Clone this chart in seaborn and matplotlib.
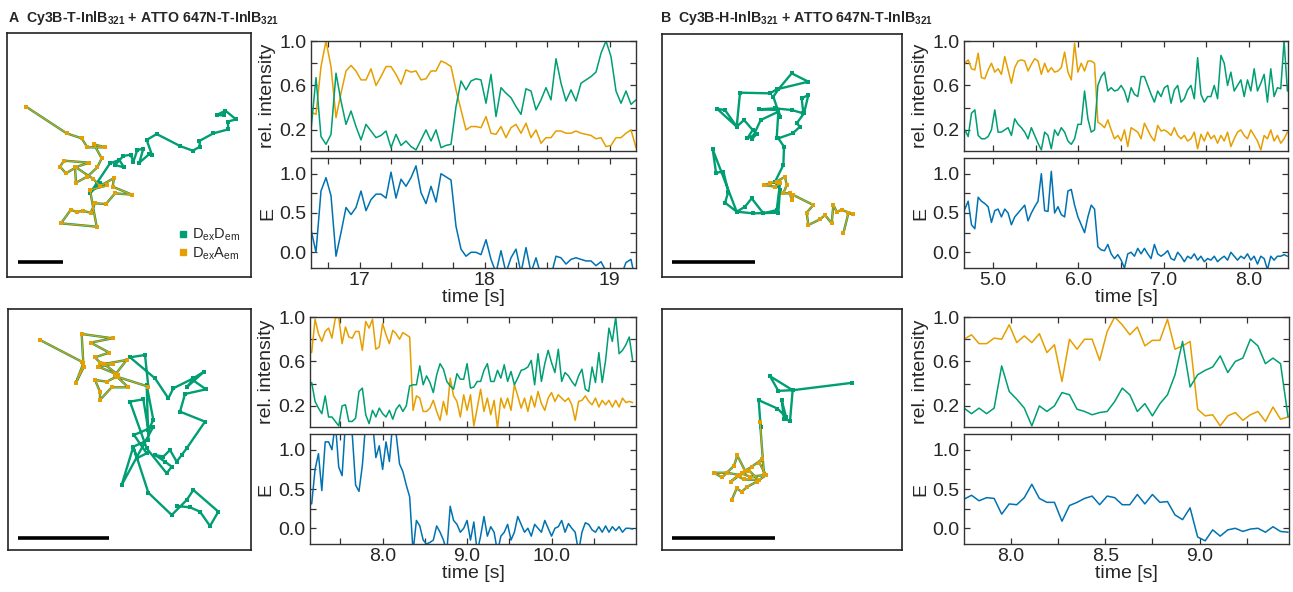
import numpy as np
import matplotlib
matplotlib.use("Agg")
import matplotlib.pyplot as plt
import seaborn as sns
from matplotlib.lines import Line2D

sns.set_theme(style="ticks")
plt.rcParams["font.family"] = ["Liberation Sans", "DejaVu Sans"]
plt.rcParams["mathtext.fontset"] = "custom"
plt.rcParams["mathtext.rm"] = "Liberation Sans"
plt.rcParams["mathtext.it"] = "Liberation Sans:italic"
plt.rcParams["mathtext.bf"] = "Liberation Sans:bold"

GREEN = "#009E73"
ORANGE = "#E69F00"
BLUE = "#0072B2"

# ---------------- data ----------------
titles = [r"A  Cy3B-T-InlB$_\mathbf{321}$ + ATTO 647N-T-InlB$_\mathbf{321}$",
          r"B  Cy3B-H-InlB$_\mathbf{321}$ + ATTO 647N-T-InlB$_\mathbf{321}$"]
legend_labels = [r"D$_\mathrm{ex}$D$_\mathrm{em}$", r"D$_\mathrm{ex}$A$_\mathrm{em}$"]

# panel A, top row
a1_t0, a1_dt = 16.61, 0.04
a1_dd = [0.20, 0.67, 0.14, 0.07, 0.16, 0.71, 0.46, 0.25, 0.37, 0.23,
         0.11, 0.25, 0.19, 0.13, 0.15, 0.19, 0.04, 0.16, 0.06, 0.10,
         0.05, 0.02, 0.11, 0.20, 0.10, 0.20, 0.04, 0.06, 0.07, 0.41,
         0.64, 0.56, 0.64, 0.66, 0.65, 0.44, 0.70, 0.32, 0.58, 0.53,
         0.49, 0.41, 0.34, 0.57, 0.55, 0.38, 0.47, 0.58, 0.47, 0.84,
         0.62, 0.46, 0.56, 0.46, 0.62, 0.65, 0.68, 0.72, 0.89, 1.00,
         0.86, 0.55, 0.44, 0.55, 0.43, 0.47]
a1_da = [0.36, 0.34, 0.77, 1.00, 0.77, 0.31, 0.53, 0.73, 0.78, 0.73,
         0.65, 0.65, 0.75, 0.60, 0.68, 0.77, 0.77, 0.70, 0.61, 0.74,
         0.72, 0.73, 0.65, 0.66, 0.73, 0.73, 0.82, 0.80, 0.77, 0.56,
         0.38, 0.20, 0.23, 0.23, 0.22, 0.32, 0.17, 0.16, 0.23, 0.13,
         0.22, 0.25, 0.17, 0.26, 0.13, 0.20, 0.08, 0.13, 0.13, 0.19,
         0.19, 0.17, 0.17, 0.19, 0.17, 0.16, 0.15, 0.12, 0.13, 0.05,
         0.06, 0.13, 0.13, 0.17, 0.20, 0.04]
a1_e = [0.29, 0.00, 0.78, 0.95, 0.72, -0.05, 0.25, 0.57, 0.48, 0.57,
        0.78, 0.53, 0.67, 0.74, 0.74, 0.69, 1.02, 0.69, 0.93, 0.84,
        0.95, 1.10, 0.76, 0.62, 0.84, 0.64, 1.00, 0.96, 0.92, 0.33,
        0.04, -0.05, 0.00, 0.00, -0.03, 0.16, -0.09, -0.26, 0.02, -0.26,
        -0.07, 0.04, -0.26, 0.06, -0.26, -0.07, -0.30, -0.30, -0.30, -0.05,
        -0.07, -0.15, -0.09, -0.07, -0.09, -0.11, -0.11, -0.17, -0.12, -0.24,
        -0.30, -0.30, -0.30, -0.13, -0.09, -0.40]
a1_xlim = (16.61, 19.21)
a1_xticks = [16.75, 17.0, 17.25, 17.5, 17.75, 18.0, 18.25, 18.5, 18.75, 19.0]
a1_xlabels = ["", "17", "", "", "", "18", "", "", "", "19"]

# panel B, top row
b1_t0, b1_dt = 4.67, 0.039
b1_dd = [0.20, 0.14, 0.35, 0.38, 0.15, 0.12, 0.12, 0.14, 0.20, 0.38,
         0.18, 0.18, 0.20, 0.22, 0.15, 0.30, 0.25, 0.22, 0.18, 0.12,
         0.22, 0.15, 0.08, 0.02, 0.18, 0.15, 0.03, 0.20, 0.15, 0.22,
         0.18, 0.10, 0.07, 0.12, 0.25, 0.25, 0.55, 0.30, 0.18, 0.20,
         0.60, 0.68, 0.72, 0.55, 0.58, 0.55, 0.56, 0.60, 0.55, 0.45,
         0.58, 0.52, 0.50, 0.68, 0.68, 0.60, 0.52, 0.45, 0.55, 0.50,
         0.58, 0.60, 0.44, 0.56, 0.60, 0.45, 0.48, 0.56, 0.60, 0.48,
         0.85, 0.52, 0.45, 0.50, 0.50, 0.60, 0.48, 0.87, 0.80, 0.60,
         0.72, 0.55, 0.60, 0.65, 0.50, 0.65, 0.55, 0.75, 0.55, 0.62,
         0.70, 0.45, 0.75, 0.50, 0.58, 0.57, 1.00, 0.55]
b1_da = [0.80, 0.83, 0.75, 0.74, 0.89, 0.67, 0.66, 0.74, 0.80, 0.72,
         0.75, 0.70, 0.86, 0.74, 0.62, 0.76, 0.82, 0.83, 0.82, 0.73,
         0.79, 0.84, 0.82, 0.70, 0.80, 0.72, 0.76, 0.72, 0.73, 0.76,
         0.90, 0.72, 0.65, 0.98, 0.72, 0.80, 0.73, 0.82, 0.82, 0.80,
         0.27, 0.25, 0.22, 0.29, 0.20, 0.12, 0.15, 0.10, 0.20, 0.05,
         0.22, 0.20, 0.18, 0.12, 0.26, 0.20, 0.14, 0.10, 0.24, 0.19,
         0.20, 0.18, 0.15, 0.22, 0.15, 0.12, 0.15, 0.10, 0.12, 0.18,
         0.03, 0.16, 0.10, 0.18, 0.12, 0.15, 0.08, 0.15, 0.10, 0.18,
         0.05, 0.12, 0.18, 0.20, 0.15, 0.12, 0.20, 0.15, 0.10, 0.02,
         0.15, 0.12, 0.20, 0.10, 0.15, 0.08, 0.12, 0.18]
b1_e = [0.55, 0.65, 0.35, 0.30, 0.70, 0.65, 0.62, 0.58, 0.38, 0.53,
        0.55, 0.45, 0.55, 0.50, 0.35, 0.45, 0.50, 0.55, 0.60, 0.40,
        0.50, 0.58, 0.65, 1.00, 0.53, 0.52, 1.03, 0.50, 0.58, 0.48,
        0.45, 0.78, 0.80, 0.60, 0.45, 0.35, 0.25, 0.45, 0.60, 0.55,
        0.07, 0.03, 0.02, 0.10, -0.02, -0.08, -0.03, -0.10, -0.20, -0.02,
        0.00, -0.05, 0.05, -0.02, 0.05, -0.02, -0.08, 0.10, -0.02, -0.05,
        -0.02, 0.02, -0.08, -0.10, 0.00, -0.05, -0.12, -0.05, -0.08, -0.02,
        -0.10, -0.05, -0.12, -0.08, -0.10, -0.05, -0.12, -0.08, -0.05, -0.10,
        0.00, -0.05, -0.10, -0.05, -0.08, -0.02, -0.10, -0.05, -0.15, -0.05,
        -0.08, -0.22, -0.05, -0.10, -0.05, -0.05, -0.03, -0.05]
b1_xlim = (4.66, 8.46)
b1_xticks = [5.0, 5.5, 6.0, 6.5, 7.0, 7.5, 8.0]
b1_xlabels = ["5.0", "", "6.0", "", "7.0", "", "8.0"]

# panel A, bottom row
a2_t0, a2_dt = 7.16, 0.04
a2_dd = [0.41, 0.24, 0.18, 0.13, 0.29, 0.10, 0.10, 0.06, 0.02, 0.20,
         0.21, 0.06, 0.06, 0.09, 0.33, 0.36, 0.12, 0.04, 0.16, 0.10,
         0.18, 0.13, 0.10, 0.16, 0.08, 0.17, 0.21, 0.15, 0.20, 0.38,
         0.39, 0.39, 0.56, 0.39, 0.47, 0.41, 0.32, 0.48, 0.58, 0.53,
         0.42, 0.38, 0.35, 0.49, 0.44, 0.44, 0.58, 0.36, 0.37, 0.42,
         0.42, 0.52, 0.58, 0.42, 0.42, 0.52, 0.45, 0.57, 0.42, 0.51,
         0.39, 0.45, 0.52, 0.53, 0.55, 0.61, 0.39, 0.67, 0.42, 0.58,
         0.70, 0.59, 0.50, 0.71, 0.42, 0.50, 0.47, 0.42, 0.38, 0.47,
         0.53, 0.35, 0.33, 0.55, 0.41, 0.68, 0.41, 0.61, 0.90, 0.78,
         1.00, 0.67, 0.70, 0.75, 0.82, 0.61]
a2_da = [0.68, 0.98, 0.85, 0.78, 0.87, 0.90, 0.81, 0.99, 1.00, 0.76,
         0.91, 0.82, 0.81, 0.87, 0.87, 0.70, 0.96, 0.90, 0.98, 0.71,
         0.73, 0.94, 0.84, 0.76, 0.88, 0.85, 0.80, 0.86, 0.84, 0.82,
         0.16, 0.29, 0.27, 0.15, 0.15, 0.18, 0.25, 0.15, 0.07, 0.24,
         0.12, 0.45, 0.29, 0.24, 0.10, 0.30, 0.16, 0.30, 0.02, 0.18,
         0.35, 0.15, 0.27, 0.12, 0.25, 0.00, 0.27, 0.18, 0.27, 0.16,
         0.39, 0.29, 0.18, 0.27, 0.15, 0.29, 0.19, 0.33, 0.22, 0.16,
         0.27, 0.32, 0.24, 0.30, 0.27, 0.24, 0.27, 0.21, 0.07, 0.24,
         0.25, 0.29, 0.24, 0.21, 0.27, 0.19, 0.25, 0.21, 0.25, 0.19,
         0.25, 0.19, 0.27, 0.23, 0.24, 0.23]
a2_e = [0.31, 0.75, 0.95, 0.48, 1.10, 1.10, 1.00, 1.35, 0.78, 0.67,
        1.35, 1.35, 1.20, 0.55, 0.47, 0.80, 1.35, 1.30, 1.35, 0.90,
        1.05, 0.75, 1.10, 0.85, 1.35, 1.20, 0.82, 0.72, 0.55, 0.40,
        -0.30, 0.10, 0.03, -0.15, -0.20, -0.18, -0.15, 0.03, -0.05, -0.15,
        -0.30, 0.28, 0.10, 0.05, -0.05, 0.00, 0.10, -0.15, 0.08, -0.30,
        -0.10, 0.15, -0.10, 0.02, -0.05, -0.30, -0.10, -0.05, 0.05, -0.15,
        -0.05, 0.15, 0.05, -0.05, 0.00, -0.10, 0.05, 0.00, -0.05, 0.10,
        0.00, -0.10, 0.00, 0.02, 0.10, -0.05, 0.06, 0.00, -0.05, -0.30,
        -0.05, 0.07, 0.05, -0.02, -0.05, 0.02, -0.05, 0.03, -0.05, 0.02,
        -0.03, 0.02, -0.05, 0.00, 0.00, -0.01]
a2_xlim = (7.14, 11.0)
a2_xticks = [7.5, 8.0, 8.5, 9.0, 9.5, 10.0, 10.5]
a2_xlabels = ["", "8.0", "", "9.0", "", "10.0", ""]

# panel B, bottom row
b2_t0, b2_dt = 7.75, 0.04
b2_dd = [0.18, 0.13, 0.18, 0.13, 0.18, 0.56, 0.33, 0.26, 0.18, 0.02,
         0.20, 0.15, 0.20, 0.32, 0.30, 0.17, 0.15, 0.12, 0.14, 0.15,
         0.24, 0.36, 0.30, 0.15, 0.22, 0.11, 0.22, 0.30, 0.48, 0.78,
         0.37, 0.48, 0.52, 0.55, 0.65, 0.50, 0.60, 0.63, 0.80, 0.74,
         0.58, 0.63, 0.58, 0.10]
b2_da = [0.80, 0.84, 0.76, 0.76, 0.81, 0.80, 0.93, 0.77, 0.83, 0.77,
         0.85, 0.68, 0.75, 0.42, 0.80, 0.71, 0.80, 0.80, 0.61, 0.87,
         1.00, 0.93, 0.84, 0.91, 0.74, 0.79, 0.79, 0.98, 0.71, 0.74,
         0.78, 0.17, 0.11, 0.12, 0.02, 0.11, 0.14, 0.07, 0.12, 0.15,
         0.06, 0.19, 0.08, 0.10]
b2_e = [0.37, 0.42, 0.35, 0.39, 0.38, 0.18, 0.31, 0.30, 0.39, 0.56,
        0.38, 0.33, 0.33, 0.09, 0.29, 0.33, 0.38, 0.41, 0.30, 0.41,
        0.39, 0.30, 0.30, 0.43, 0.31, 0.43, 0.33, 0.34, 0.17, 0.11,
        0.26, -0.11, -0.16, -0.02, -0.10, -0.02, 0.00, -0.04, -0.01, 0.00,
        -0.05, 0.02, -0.04, -0.05]
b2_xlim = (7.75, 9.475)
b2_xticks = [8.0, 8.25, 8.5, 8.75, 9.0, 9.25]
b2_xlabels = ["8.0", "", "8.5", "", "9.0", ""]

int_ticks = [0.2, 0.4, 0.6, 0.8, 1.0]
int_labels = ["0.2", "", "0.6", "", "1.0"]
e_ticks = [0.0, 0.25, 0.5, 0.75, 1.0]
e_labels = ["0.0", "", "0.5", "", "1.0"]

# trajectories (image pixel units), FRET part first, then donor-only part
trA1_fret_x = [78, 200, 245, 262, 315, 282, 305, 292, 262, 228, 225, 268, 192, 180, 198, 228,
               280, 300, 342, 338, 396, 345, 318, 285, 272, 250, 230, 212, 183, 290, 270, 322]
trA1_fret_y = [230, 310, 325, 352, 352, 343, 385, 412, 440, 458, 412, 398, 392, 410, 430, 412,
               447, 468, 444, 470, 494, 490, 522, 520, 548, 543, 545, 540, 580, 590, 480, 466]
trA1_dd_x = [322, 300, 270, 330, 358, 372, 345, 370, 392, 400, 412, 430, 418, 448, 456, 440,
             470, 540, 578, 600, 598, 640, 685, 683, 708, 676, 650, 672]
trA1_dd_y = [466, 460, 490, 400, 390, 412, 405, 378, 374, 395, 360, 356, 398, 372, 375, 330,
             312, 348, 362, 350, 333, 310, 298, 275, 268, 242, 255, 256]

trB1_fret_x = [550, 565, 580, 545, 530, 520, 515, 495, 480, 445, 440, 460, 400, 395, 390, 370,
               380, 375, 350, 330, 312, 345, 360]
trB1_fret_y = [610, 550, 552, 540, 545, 525, 580, 555, 568, 585, 548, 525, 495, 510, 490, 490,
               465, 440, 455, 460, 465, 470, 460]
trB1_dd_x = [360, 350, 310, 275, 255, 230, 195, 205, 190, 168, 158, 230, 280, 355, 360, 345,
             370, 372, 355, 398, 420, 410, 432, 445, 425, 430, 395, 345, 298, 355, 360, 340,
             355, 395, 445, 350, 330, 240, 230, 195, 172, 230, 252, 278, 262, 290, 275, 302,
             355, 350]
trB1_dd_y = [460, 540, 550, 505, 530, 545, 518, 485, 425, 428, 358, 545, 550, 548, 480, 455,
             405, 350, 325, 310, 290, 280, 250, 195, 205, 250, 240, 235, 238, 240, 260, 200,
             178, 130, 155, 178, 190, 188, 290, 240, 237, 290, 270, 300, 325, 312, 328, 270,
             245, 325]

trA2_fret_x = [120, 245, 252, 228, 250, 245, 338, 272, 328, 285, 300, 338, 295, 355, 312, 380,
               345, 385, 335, 300, 300, 285, 320, 350, 445]
trA2_fret_y = [120, 185, 200, 248, 190, 102, 115, 128, 158, 172, 188, 192, 200, 225, 192, 180,
               225, 262, 262, 300, 275, 240, 245, 230, 260]
trA2_dd_x = [445, 435, 390, 465, 505, 520, 580, 612, 560, 578, 618, 555, 540, 615, 560, 545,
             530, 510, 490, 465, 495, 515, 500, 440, 390, 430, 445, 460, 440, 445, 400, 410,
             440, 402, 460, 365, 400, 445, 515, 560, 580, 655, 630, 600, 570, 530]
trA2_dd_y = [260, 165, 172, 235, 295, 265, 235, 215, 262, 240, 268, 282, 335, 365, 445, 465,
             485, 450, 470, 465, 485, 500, 520, 445, 305, 298, 390, 360, 255, 420, 440, 475,
             460, 405, 380, 555, 440, 578, 645, 600, 570, 635, 678, 635, 622, 618]

trB2_fret_x = [215, 230, 245, 262, 290, 318, 298, 305, 275, 255, 232, 222, 186, 162, 200, 240,
               268, 296, 252, 232, 212, 245, 270, 312, 300]
trB2_fret_y = [600, 565, 575, 560, 545, 525, 488, 478, 500, 512, 466, 497, 532, 518, 518, 525,
               512, 540, 538, 528, 545, 520, 530, 525, 365]
trB2_dd_x = [300, 302, 296, 352, 378, 365, 372, 390, 398, 330, 355, 398, 575]
trB2_dd_y = [365, 382, 300, 325, 350, 300, 356, 362, 270, 228, 272, 270, 248]

# ---------------- figure ----------------
W, H = 1293, 592
fig = plt.figure(figsize=(W / 100, H / 100), dpi=100)


def add_ax(x0, y0, x1, y1):
    return fig.add_axes([x0 / W, 1 - y1 / H, (x1 - x0) / W, (y1 - y0) / H])


def style_axis(ax):
    for s in ax.spines.values():
        s.set_color("#333333")
        s.set_linewidth(1.0)
    ax.tick_params(direction="in", top=True, right=True, length=4, width=0.9,
                   color="#333333", labelsize=14, pad=3)


def trace_panel(x0, x1, yi0, yi1, ye0, ye1, t0, dt, dd, da, e, xlim, xticks, xlabels):
    t = t0 + dt * np.arange(len(dd))
    ax1 = add_ax(x0, yi0, x1, yi1)
    ax2 = add_ax(x0, ye0, x1, ye1)
    sns.lineplot(x=t, y=da, ax=ax1, color=ORANGE, lw=1.1)
    sns.lineplot(x=t, y=dd, ax=ax1, color=GREEN, lw=1.1)
    sns.lineplot(x=t, y=e, ax=ax2, color=BLUE, lw=1.1)
    for ax in (ax1, ax2):
        style_axis(ax)
        ax.set_xlim(*xlim)
        ax.set_xticks(xticks)
    ax1.set_xticklabels([])
    ax2.set_xticklabels(xlabels)
    ax1.set_ylim(0.01, 1.0)
    ax1.set_yticks(int_ticks)
    ax1.set_yticklabels(int_labels)
    ax2.set_ylim(-0.2, 1.2)
    ax2.set_yticks(e_ticks)
    ax2.set_yticklabels(e_labels)
    ax1.set_ylabel("rel. intensity", fontsize=14)
    ax2.set_ylabel("E", fontsize=14)
    ax2.set_xlabel("time [s]", fontsize=14, labelpad=0)
    ax1.yaxis.set_label_coords(-0.108, 0.5)
    ax2.yaxis.set_label_coords(-0.108, 0.5)


def traj_panel(box, xlim, ylim, fx, fy, gx, gy, bar, legend=False):
    ax = add_ax(*box)
    xs = fx + gx[1:]
    ys = fy + gy[1:]
    sns.lineplot(x=xs, y=ys, ax=ax, sort=False, estimator=None, color=GREEN, lw=1.7,
                 marker="s", markersize=3.0, markeredgewidth=0)
    sns.lineplot(x=fx, y=fy, ax=ax, sort=False, estimator=None, color=ORANGE, lw=0.9,
                 marker="s", markersize=3.2, markeredgewidth=0)
    ax.plot(bar[0], bar[1], color="black", lw=2.6, solid_capstyle="butt")
    ax.set_xlim(*xlim)
    ax.set_ylim(*ylim)
    ax.set_xticks([])
    ax.set_yticks([])
    ax.set_xlabel("")
    ax.set_ylabel("")
    for s in ax.spines.values():
        s.set_color("#222222")
        s.set_linewidth(1.2)
    if legend:
        handles = [Line2D([], [], ls="none", marker="s", color=GREEN, markersize=5),
                   Line2D([], [], ls="none", marker="s", color=ORANGE, markersize=5)]
        ax.legend(handles, legend_labels, loc="lower right", bbox_to_anchor=(1.0, 0.02),
                  frameon=False, fontsize=10.5, handlelength=0.5, handletextpad=0.35,
                  labelspacing=0.15, borderpad=0.2)
    return ax


# trajectories
traj_panel((7.3, 33.3, 250.7, 276.7), (22, 752), (740, 10),
           trA1_fret_x, trA1_fret_y, trA1_dd_x, trA1_dd_y, ([55, 190], [697, 697]), legend=True)
traj_panel((661.7, 34, 902, 276.7), (5, 726), (740, 12),
           trB1_fret_x, trB1_fret_y, trB1_dd_x, trB1_dd_y, ([35, 285], [697, 697]))
traj_panel((8.3, 309.3, 250.7, 550), (25, 752), (750, 28),
           trA2_fret_x, trA2_fret_y, trA2_dd_x, trA2_dd_y, ([55, 328], [715, 715]))
traj_panel((661.7, 309.3, 902, 550), (5, 726), (750, 27),
           trB2_fret_x, trB2_fret_y, trB2_dd_x, trB2_dd_y, ([35, 345], [715, 715]))

# traces
trace_panel(311, 636, 41, 151, 158, 268, a1_t0, a1_dt, a1_dd, a1_da, a1_e,
            a1_xlim, a1_xticks, a1_xlabels)
trace_panel(964, 1288, 41, 151, 158, 268, b1_t0, b1_dt, b1_dd, b1_da, b1_e,
            b1_xlim, b1_xticks, b1_xlabels)
trace_panel(310, 636, 317, 427, 434, 544, a2_t0, a2_dt, a2_dd, a2_da, a2_e,
            a2_xlim, a2_xticks, a2_xlabels)
trace_panel(964, 1289, 317, 427, 434, 544, b2_t0, b2_dt, b2_dd, b2_da, b2_e,
            b2_xlim, b2_xticks, b2_xlabels)

fig.text(8 / W, 1 - 18 / H, titles[0], fontsize=10.2, fontweight="bold", va="center", ha="left")
fig.text(660 / W, 1 - 18 / H, titles[1], fontsize=10.2, fontweight="bold", va="center", ha="left")

fig.savefig("out.png", dpi=100, facecolor="white")
